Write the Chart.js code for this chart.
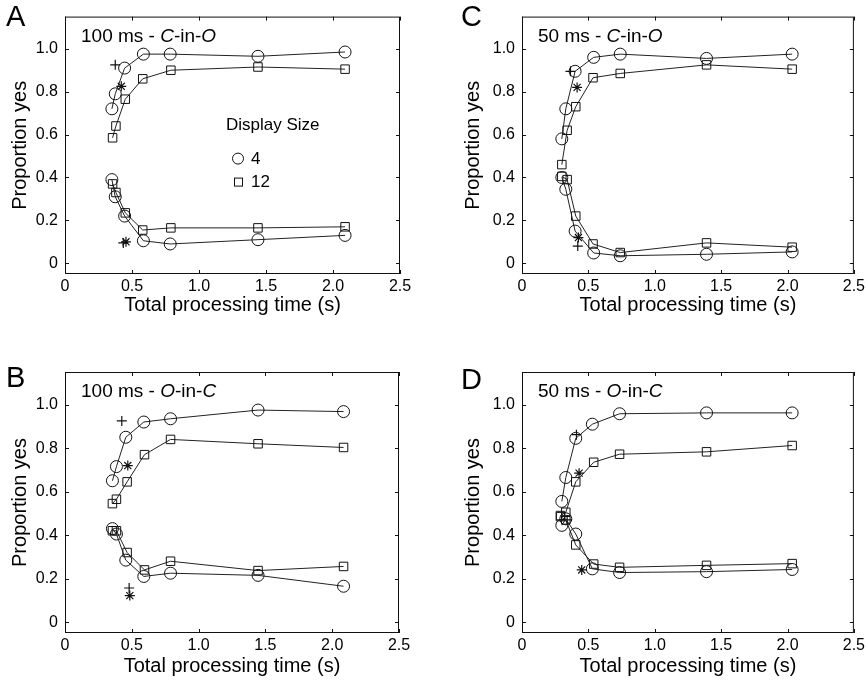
<!DOCTYPE html>
<html lang="en">
<head>
  <meta charset="UTF-8">
  <title>Proportion yes vs total processing time</title>
  <script src="https://cdn.jsdelivr.net/npm/chart.js"></script>
  <style>
    body { margin: 0; background: #fff; }
    .sheet { position: relative; width: 868px; height: 687px; }
    .sheet canvas { position: absolute; }
  </style>
</head>
<body>
  <div class="sheet">
    <canvas id="panelA" width="434" height="343" style="left:0;top:0"></canvas>
    <canvas id="panelC" width="434" height="343" style="left:434px;top:0"></canvas>
    <canvas id="panelB" width="434" height="344" style="left:0;top:343px"></canvas>
    <canvas id="panelD" width="434" height="344" style="left:434px;top:343px"></canvas>
  </div>
  <script>
    const xTicks = [0, 0.5, 1.0, 1.5, 2.0, 2.5];
    const yTicks = [0, 0.2, 0.4, 0.6, 0.8, 1.0];

    // A: 100 ms - C-in-O
    const timeA4  = [0.35, 0.375, 0.445, 0.585, 0.785, 1.44, 2.09];
    const hitA4   = [0.72, 0.79, 0.91, 0.975, 0.975, 0.965, 0.985];
    const faA4    = [0.39, 0.31, 0.22, 0.105, 0.09, 0.11, 0.13];
    const timeA12 = [0.355, 0.38, 0.45, 0.58, 0.79, 1.44, 2.09];
    const hitA12  = [0.585, 0.64, 0.765, 0.86, 0.9, 0.915, 0.905];
    const faA12   = [0.37, 0.33, 0.235, 0.155, 0.165, 0.165, 0.17];
    const plusTimeA = [0.375, 0.435], plusPropA = [0.925, 0.095];
    const starTimeA = [0.42, 0.455],  starPropA = [0.825, 0.1];

    // C: 50 ms - C-in-O
    const timeC4  = [0.30, 0.33, 0.40, 0.54, 0.74, 1.39, 2.035];
    const hitC4   = [0.58, 0.72, 0.895, 0.96, 0.975, 0.955, 0.975];
    const faC4    = [0.40, 0.345, 0.15, 0.048, 0.035, 0.042, 0.053];
    const timeC12 = [0.30, 0.34, 0.405, 0.535, 0.74, 1.39, 2.035];
    const hitC12  = [0.46, 0.62, 0.73, 0.865, 0.885, 0.925, 0.905];
    const faC12   = [0.405, 0.39, 0.22, 0.09, 0.05, 0.095, 0.075];
    const plusTimeC = [0.365, 0.42], plusPropC = [0.895, 0.08];
    const starTimeC = [0.415, 0.425], starPropC = [0.82, 0.12];

    // B: 100 ms - O-in-C
    const timeB4  = [0.355, 0.385, 0.455, 0.59, 0.79, 1.445, 2.085];
    const hitB4   = [0.65, 0.715, 0.85, 0.92, 0.935, 0.975, 0.968];
    const faB4    = [0.43, 0.405, 0.285, 0.21, 0.225, 0.215, 0.165];
    const timeB12 = [0.355, 0.385, 0.465, 0.595, 0.79, 1.445, 2.085];
    const hitB12  = [0.545, 0.565, 0.645, 0.77, 0.84, 0.82, 0.803];
    const faB12   = [0.42, 0.42, 0.32, 0.24, 0.28, 0.237, 0.256];
    const plusTimeB = [0.425, 0.48], plusPropB = [0.925, 0.157];
    const starTimeB = [0.47, 0.485], starPropB = [0.72, 0.122];

    // D: 50 ms - O-in-C
    const timeD4  = [0.30, 0.33, 0.405, 0.53, 0.735, 1.39, 2.035];
    const hitD4   = [0.555, 0.665, 0.845, 0.91, 0.958, 0.962, 0.962];
    const faD4    = [0.445, 0.475, 0.405, 0.245, 0.228, 0.232, 0.242];
    const timeD12 = [0.29, 0.33, 0.405, 0.54, 0.735, 1.39, 2.035];
    const hitD12  = [0.49, 0.505, 0.645, 0.735, 0.772, 0.783, 0.812];
    const faD12   = [0.485, 0.47, 0.355, 0.267, 0.252, 0.261, 0.269];
    const plusTimeD = [0.41, 0.34], plusPropD = [0.862, 0.47];
    const starTimeD = [0.43, 0.45], starPropD = [0.685, 0.24];

    const legendTitle = 'Display Size';
    const legendLabels = ['4', '12'];

    const FONT = '"Liberation Sans", Arial, Helvetica, sans-serif';
    const INK = '#111';

    const pts = (xs, ys) => xs.map((x, i) => ({ x: x, y: ys[i] }));
    const fmt = v => (v === 0 ? '0' : v.toFixed(1));

    const lineSet = (xs, ys, style) => ({
      data: pts(xs, ys),
      showLine: true,
      borderColor: '#222',
      borderWidth: 1,
      pointStyle: style,
      pointRadius: 6,
      pointBorderColor: INK,
      pointBorderWidth: 1,
      pointBackgroundColor: 'rgba(0,0,0,0)'
    });

    const markSet = (xs, ys, style) => ({
      data: pts(xs, ys),
      showLine: false,
      pointStyle: style,
      pointRadius: 5,
      pointBorderColor: INK,
      pointBorderWidth: 1.2
    });

    // box, inward ticks, panel letter, condition label, legend
    const framePlugin = {
      id: 'frame',
      afterDatasetsDraw(chart, args, opts) {
        const { ctx, chartArea: a, scales: { x, y } } = chart;
        ctx.save();
        ctx.strokeStyle = INK;
        ctx.lineWidth = 1;
        ctx.strokeRect(a.left + 0.5, a.top + 0.5, a.right - a.left - 1, a.bottom - a.top - 1);
        ctx.beginPath();
        xTicks.forEach(v => {
          const px = Math.round(x.getPixelForValue(v)) + 0.5;
          ctx.moveTo(px, a.bottom); ctx.lineTo(px, a.bottom - 4);
          ctx.moveTo(px, a.top); ctx.lineTo(px, a.top + 4);
        });
        yTicks.forEach(v => {
          const py = Math.round(y.getPixelForValue(v)) + 0.5;
          ctx.moveTo(a.left, py); ctx.lineTo(a.left + 4, py);
          ctx.moveTo(a.right, py); ctx.lineTo(a.right - 4, py);
        });
        ctx.stroke();

        ctx.fillStyle = '#000';
        ctx.textBaseline = 'middle';
        ctx.textAlign = 'left';
        ctx.font = '29px ' + FONT;
        ctx.fillText(opts.letter, opts.letterX, opts.letterY);

        let tx = a.left + 16;
        const ty = a.top + 20;
        opts.label.forEach(([txt, it]) => {
          ctx.font = (it ? 'italic ' : '') + '19px ' + FONT;
          ctx.fillText(txt, tx, ty);
          tx += ctx.measureText(txt).width;
        });

        if (opts.legend) {
          const lx = a.left + 161, ly = a.top + 109;
          ctx.font = '17px ' + FONT;
          ctx.fillText(legendTitle, lx, ly);
          ctx.lineWidth = 1;
          ctx.beginPath();
          ctx.arc(lx + 12, ly + 33, 5.5, 0, Math.PI * 2);
          ctx.stroke();
          ctx.strokeRect(lx + 8.5, ly + 52.5, 8, 8);
          ctx.fillText(legendLabels[0], lx + 25, ly + 34);
          ctx.fillText(legendLabels[1], lx + 25, ly + 57);
        }
        ctx.restore();
      }
    };

    const panels = [
      { id: 'panelA', w: 434, h: 343, area: { l: 65, t: 10, r: 400, b: 274 }, yTitleX: 20, xTitleY: 305,
        letter: 'A', letterX: 6, letterY: 18, legend: true,
        label: [['100 ms - ', false], ['C', true], ['-in-', false], ['O', true]],
        series: [[timeA4, hitA4], [timeA4, faA4], [timeA12, hitA12], [timeA12, faA12]],
        plus: [plusTimeA, plusPropA], star: [starTimeA, starPropA] },
      { id: 'panelC', w: 434, h: 343, area: { l: 88, t: 10, r: 420, b: 274 }, yTitleX: 39, xTitleY: 305,
        letter: 'C', letterX: 27, letterY: 18, legend: false,
        label: [['50 ms - ', false], ['C', true], ['-in-', false], ['O', true]],
        series: [[timeC4, hitC4], [timeC4, faC4], [timeC12, hitC12], [timeC12, faC12]],
        plus: [plusTimeC, plusPropC], star: [starTimeC, starPropC] },
      { id: 'panelB', w: 434, h: 344, area: { l: 65, t: 29, r: 399, b: 290 }, yTitleX: 20, xTitleY: 323,
        letter: 'B', letterX: 6, letterY: 36, legend: false,
        label: [['100 ms - ', false], ['O', true], ['-in-', false], ['C', true]],
        series: [[timeB4, hitB4], [timeB4, faB4], [timeB12, hitB12], [timeB12, faB12]],
        plus: [plusTimeB, plusPropB], star: [starTimeB, starPropB] },
      { id: 'panelD', w: 434, h: 344, area: { l: 88, t: 29, r: 420, b: 290 }, yTitleX: 39, xTitleY: 323,
        letter: 'D', letterX: 27, letterY: 38, legend: false,
        label: [['50 ms - ', false], ['O', true], ['-in-', false], ['C', true]],
        series: [[timeD4, hitD4], [timeD4, faD4], [timeD12, hitD12], [timeD12, faD12]],
        plus: [plusTimeD, plusPropD], star: [starTimeD, starPropD] }
    ];

    panels.forEach(p => {
      const styles = ['circle', 'circle', 'rect', 'rect'];
      const datasets = p.series.map((s, i) => lineSet(s[0], s[1], styles[i]));
      datasets.push(markSet(p.plus[0], p.plus[1], 'cross'));
      datasets.push(markSet(p.star[0], p.star[1], 'star'));

      const titleLH = 20 * 1.2;
      new Chart(document.getElementById(p.id), {
        type: 'scatter',
        data: { datasets: datasets },
        plugins: [framePlugin],
        options: {
          responsive: false,
          animation: false,
          devicePixelRatio: 1,
          layout: { padding: { left: 0, top: p.area.t, right: p.w - p.area.r, bottom: 0 } },
          plugins: {
            legend: { display: false },
            tooltip: { enabled: false },
            frame: p
          },
          scales: {
            x: {
              type: 'linear',
              min: 0, max: 2.5,
              afterBuildTicks: s => { s.ticks = xTicks.map(v => ({ value: v })); },
              afterFit: s => { s.height = p.h - p.area.b; },
              grid: { display: false, drawTicks: false },
              border: { display: false },
              ticks: { color: '#000', padding: 3, maxRotation: 0, font: { family: FONT, size: 16 }, callback: fmt },
              title: {
                display: true, text: 'Total processing time (s)', color: '#000',
                font: { family: FONT, size: 20 },
                padding: { top: 0, bottom: p.h - p.xTitleY - titleLH / 2 }
              }
            },
            y: {
              type: 'linear',
              min: -0.05, max: 1.15,
              afterBuildTicks: s => { s.ticks = yTicks.map(v => ({ value: v })); },
              afterFit: s => { s.width = p.area.l; },
              grid: { display: false, drawTicks: false },
              border: { display: false },
              ticks: { color: '#000', padding: 7, font: { family: FONT, size: 16 }, callback: fmt },
              title: {
                display: true, text: 'Proportion yes', color: '#000',
                font: { family: FONT, size: 20 },
                padding: { top: p.yTitleX - titleLH / 2, bottom: 0 }
              }
            }
          }
        }
      });
    });
  </script>
</body>
</html>
